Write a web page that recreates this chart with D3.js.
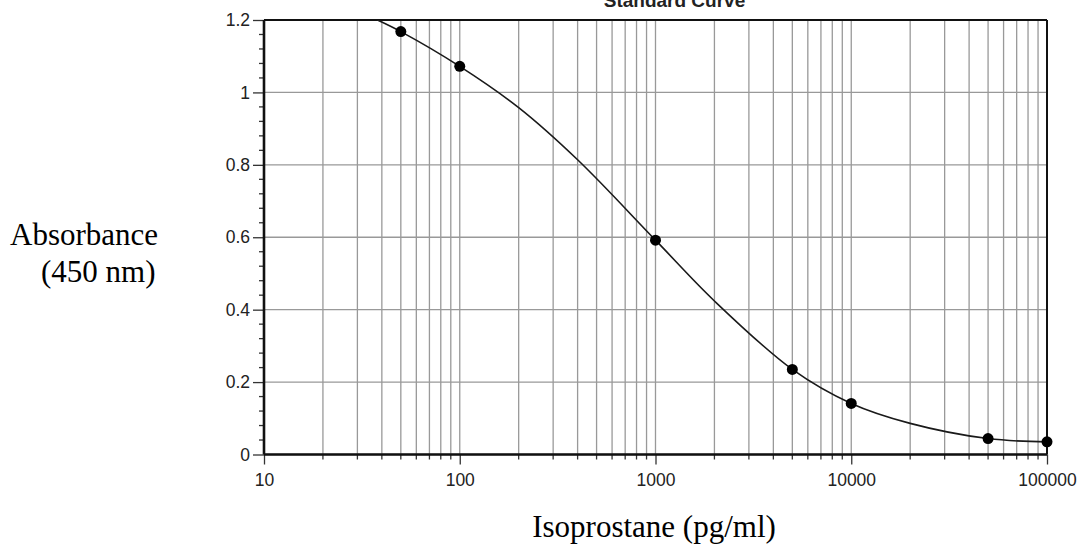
<!DOCTYPE html>
<html>
<head>
<meta charset="utf-8">
<script src="https://cdn.jsdelivr.net/npm/d3@7"></script>
<style>
    body { margin: 0; background: #fff; }
    .tick-label { font-family: "Liberation Sans", Arial, sans-serif; font-size: 17.5px; fill: #222; }
    .axis-title { font-family: "Liberation Serif", "Times New Roman", serif; font-size: 31px; fill: #000; }
</style>
</head>
<body>
<div id="chart"></div>
<script>
// values
const xTicks = [10, 100, 1000, 10000, 100000];
const yTicks = [0, 0.2, 0.4, 0.6, 0.8, 1, 1.2];

// measured standards
const concentrations = [50, 100, 1000, 5000, 10000, 50000, 100000];
const absorbances = [1.168, 1.072, 0.592, 0.235, 0.141, 0.044, 0.035];

// fitted curve
const fitConc = [38, 50, 100, 200, 400, 1000, 2000, 5000, 10000, 20000, 50000, 100000];
const fitAbs = [1.2, 1.168, 1.072, 0.958, 0.814, 0.592, 0.424, 0.235, 0.141, 0.086, 0.044, 0.035];

const svgWidth = 1081, svgHeight = 546;
const margin = {top: 20, right: 34, bottom: 91.5, left: 264};
const width = svgWidth - margin.left - margin.right;
const height = svgHeight - margin.top - margin.bottom;

const svg = d3.select("#chart").append("svg")
    .attr("width", svgWidth)
    .attr("height", svgHeight);

const g = svg.append("g")
    .attr("transform", `translate(${margin.left},${margin.top})`);

const x = d3.scaleLog().domain([10, 100000]).range([0, width]);
const y = d3.scaleLinear().domain([0, 1.2]).range([height, 0]);

// clip for the curve
g.append("clipPath").attr("id", "plot-clip")
    .append("rect").attr("width", width).attr("height", height);

// vertical grid (decades and their 2..9 multiples)
const xMinor = x.ticks();
g.append("g").selectAll("line")
    .data(xMinor)
    .enter().append("line")
    .attr("x1", d => x(d)).attr("x2", d => x(d))
    .attr("y1", 0).attr("y2", height)
    .attr("stroke", "#999")
    .attr("stroke-width", 1.3);

// horizontal grid
g.append("g").selectAll("line")
    .data(yTicks)
    .enter().append("line")
    .attr("x1", 0).attr("x2", width)
    .attr("y1", d => y(d)).attr("y2", d => y(d))
    .attr("stroke", "#999")
    .attr("stroke-width", 1.3);

// y minor ticks every 0.04
const yMinor = d3.range(0, 61, 2).map(d => d / 50).filter(d => !yTicks.some(t => Math.abs(t - d) < 1e-6));
g.append("g").selectAll("line")
    .data(yMinor)
    .enter().append("line")
    .attr("x1", -5).attr("x2", 0)
    .attr("y1", d => y(d)).attr("y2", d => y(d))
    .attr("stroke", "#333").attr("stroke-width", 1.3);

// y axis
const yAxis = g.append("g")
    .call(d3.axisLeft(y).tickValues(yTicks).tickSize(11).tickPadding(3).tickFormat(d => String(d)));
yAxis.select(".domain").remove();
yAxis.selectAll(".tick line").attr("stroke", "#333").attr("stroke-width", 1.3);
yAxis.selectAll(".tick text").attr("class", "tick-label");

// x minor ticks
g.append("g").selectAll("line")
    .data(xMinor.filter(d => !xTicks.includes(d)))
    .enter().append("line")
    .attr("x1", d => x(d)).attr("x2", d => x(d))
    .attr("y1", height).attr("y2", height + 5)
    .attr("stroke", "#333").attr("stroke-width", 1.3);

// x axis
const xAxis = g.append("g")
    .attr("transform", `translate(0,${height})`)
    .call(d3.axisBottom(x).tickValues(xTicks).tickSize(10).tickPadding(9).tickFormat(d => String(d)));
xAxis.select(".domain").remove();
xAxis.selectAll(".tick line").attr("stroke", "#333").attr("stroke-width", 1.3);
xAxis.selectAll(".tick text").attr("class", "tick-label");

// frame
g.append("line").attr("x1", 0).attr("x2", width).attr("y1", 0).attr("y2", 0)
    .attr("stroke", "#111").attr("stroke-width", 2.2);
g.append("line").attr("x1", width).attr("x2", width).attr("y1", 0).attr("y2", height)
    .attr("stroke", "#111").attr("stroke-width", 2);
g.append("line").attr("x1", 0).attr("x2", width).attr("y1", height).attr("y2", height)
    .attr("stroke", "#111").attr("stroke-width", 2.6);
g.append("line").attr("x1", 0).attr("x2", 0).attr("y1", 0).attr("y2", height)
    .attr("stroke", "#111").attr("stroke-width", 2.6);

// fitted curve
const fitData = fitConc.map((c, i) => ({c: c, a: fitAbs[i]}));
const line = d3.line()
    .x(d => x(d.c))
    .y(d => y(d.a))
    .curve(d3.curveCatmullRom.alpha(0.5));

g.append("path")
    .datum(fitData)
    .attr("clip-path", "url(#plot-clip)")
    .attr("fill", "none")
    .attr("stroke", "#1a1a1a")
    .attr("stroke-width", 1.6)
    .attr("d", line);

// standards
g.append("g").selectAll("circle")
    .data(concentrations.map((c, i) => ({c: c, a: absorbances[i]})))
    .enter().append("circle")
    .attr("cx", d => x(d.c))
    .attr("cy", d => y(d.a))
    .attr("r", 5.5)
    .attr("fill", "#000");

// title, cut off by the top edge of the scan
svg.append("text")
    .attr("x", margin.left + x(1000) + 19)
    .attr("y", 7)
    .attr("text-anchor", "middle")
    .style("font-family", "Liberation Sans, Arial, sans-serif")
    .style("font-weight", "bold")
    .style("font-size", "19px")
    .attr("fill", "#222")
    .text("Standard Curve");

// axis titles
svg.append("text")
    .attr("class", "axis-title")
    .attr("x", 10)
    .attr("y", 245)
    .text("Absorbance");

svg.append("text")
    .attr("class", "axis-title")
    .attr("x", 41)
    .attr("y", 282)
    .text("(450 nm)");

svg.append("text")
    .attr("class", "axis-title")
    .attr("x", 654)
    .attr("y", 537)
    .attr("text-anchor", "middle")
    .text("Isoprostane (pg/ml)");
</script>
</body>
</html>
